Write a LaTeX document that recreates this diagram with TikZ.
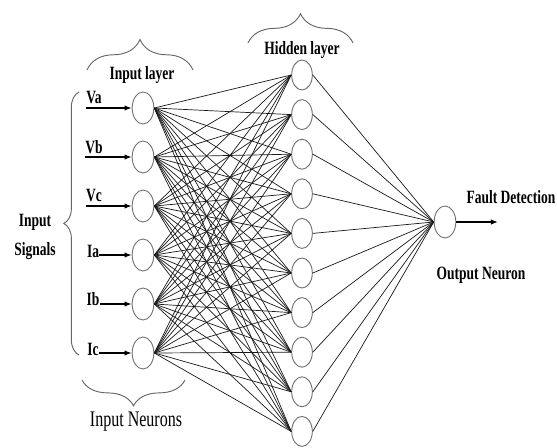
\documentclass[tikz,border=0pt]{standalone}
\usepackage{fontspec}
\setmainfont{Liberation Serif}[FakeStretch=0.72]
\usetikzlibrary{arrows.meta}
\usetikzlibrary{shapes.geometric}
\usetikzlibrary{decorations.pathreplacing}
\usetikzlibrary{positioning}

\tikzset{
	neuron/.style={ellipse, draw=black!55, line width=0.8pt, minimum width=0.65cm, minimum height=0.96cm, inner sep=0pt},
	hidden/.style={neuron, minimum width=0.62cm, minimum height=0.9cm},
	btxt/.style={font=\bfseries\fontsize{16}{25}\selectfont, inner sep=0pt, align=center},
	link/.style={draw=black!90, line width=0.6pt},
	sig/.style={-{Latex[length=6pt,width=4.5pt]}, line width=1pt},
	curly/.style={decorate, decoration={brace, amplitude=#1}, draw=black!60, line width=0.8pt},
}

\begin{document}
\begin{tikzpicture}[x=0.03cm, y=-0.03cm]
	\useasboundingbox (0,0) rectangle (557,448);

	\node[neuron] (in1) at (143,108) {};
	\node[neuron] (in2) at (143,157) {};
	\node[neuron] (in3) at (143,206) {};
	\node[neuron] (in4) at (143,255) {};
	\node[neuron] (in5) at (143,304) {};
	\node[neuron] (in6) at (143,353) {};

	\foreach \i in {1,...,10}
		\node[hidden] (h\i) at (302,{75+39.6*(\i-1)}) {};

	\node[neuron] (out) at (445,222) {};

	\foreach \i in {1,...,6}
		\foreach \j in {1,...,10}
			\draw[link] (in\i.east) -- (h\j.west);
	\foreach \j in {1,...,10}
		\draw[link] (h\j.east) -- (out.west);

	\node[btxt] (va) at (94,98) {Va};
	\node[btxt] (vb) at (94,147) {Vb};
	\node[btxt] (vc) at (94,196) {Vc};
	\node[btxt] (ia) at (93,251) {Ia};
	\node[btxt] (ib) at (93,299) {Ib};
	\node[btxt] (ic) at (93,349) {Ic};

	\draw[sig] (in1 -| va.west) -- (in1);
	\draw[sig] (in2 -| vb.west) -- (in2);
	\draw[sig] (in3 -| vc.west) -- (in3);
	\draw[sig] (in4 -| ia.east) -- (in4);
	\draw[sig] (in5 -| ib.east) -- (in5);
	\draw[sig] (in6 -| ic.east) -- (in6);

	\coordinate (fd) at (498,222);
	\draw[sig] (out) -- (fd);

	\node[btxt] (fault) at (511,197) {Fault Detection};
	\node[btxt] (outlbl) at (481,275) {Output Neuron};
	\node[btxt] (inlayer) at (142,75) {Input layer};
	\node[btxt] (hidlayer) at (302,50) {Hidden layer};
	\node[btxt] (signals) at (35,237) {Input\\Signals};
	\node[font=\fontsize{19}{21}\selectfont, inner sep=0pt] (neurons) at (136,422) {Input Neurons};

	\draw[curly=13pt] (79,355) -- (79,92);
	\draw[curly=26pt] (87,70) -- (193,70);
	\draw[curly=25pt] (248,43) -- (353,43);
	\draw[curly=22pt] (185,380) -- (82,380);
\end{tikzpicture}
\end{document}
